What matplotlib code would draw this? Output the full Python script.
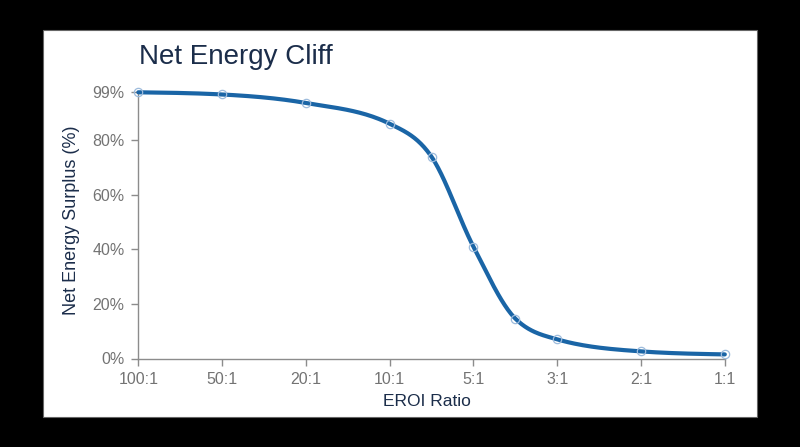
import numpy as np
import matplotlib
matplotlib.use("Agg")
import matplotlib.pyplot as plt
from matplotlib.patches import Rectangle

# data
ratio_labels = ["100:1", "50:1", "20:1", "10:1", "5:1", "3:1", "2:1", "1:1"]
point_pos = [0, 1, 2, 3, 3.5, 4, 4.5, 5, 6, 7]
surplus = [97.4, 96.6, 93.5, 85.9, 73.8, 40.9, 14.6, 7.0, 2.6, 1.5]
y_ticks = [0, 20, 40, 60, 80, 97.4]
y_tick_labels = ["0%", "20%", "40%", "60%", "80%", "99%"]

NAVY = "#1b2d4a"
LINE = "#1a65a6"
GREY_TXT = "#737373"
GREY_AX = "#8c8c8c"

plt.rcParams["font.family"] = ["Liberation Sans", "DejaVu Sans"]


def monotone_curve(x, y, n=40):
    # monotone cubic (same idea as d3.curveMonotoneX)
    x = np.asarray(x, float)
    y = np.asarray(y, float)
    h = np.diff(x)
    s = np.diff(y) / h
    m = np.zeros_like(y)
    for i in range(1, len(x) - 1):
        p = (s[i - 1] * h[i] + s[i] * h[i - 1]) / (h[i - 1] + h[i])
        m[i] = (np.sign(s[i - 1]) + np.sign(s[i])) * min(abs(s[i - 1]), abs(s[i]), 0.5 * abs(p))
    m[0] = (3 * s[0] - m[1]) / 2
    m[-1] = (3 * s[-1] - m[-2]) / 2
    xs, ys = [], []
    for i in range(len(x) - 1):
        t = np.linspace(0, 1, n)
        h00 = 2 * t**3 - 3 * t**2 + 1
        h10 = t**3 - 2 * t**2 + t
        h01 = -2 * t**3 + 3 * t**2
        h11 = t**3 - t**2
        xs.append(x[i] + t * h[i])
        ys.append(h00 * y[i] + h10 * h[i] * m[i] + h01 * y[i + 1] + h11 * h[i] * m[i + 1])
    return np.concatenate(xs), np.concatenate(ys)


W, H = 800, 447
fig = plt.figure(figsize=(W / 100, H / 100), dpi=100, facecolor="black")

panel = Rectangle((43 / W, 1 - 417.3 / H), (757 - 43) / W, (417.3 - 29.7) / H,
                  transform=fig.transFigure, facecolor="white", edgecolor="#666666",
                  linewidth=0.8, zorder=0)
fig.add_artist(panel)

ax = fig.add_axes([138.3 / W, 1 - 358.5 / H, (724.8 - 138.3) / W, (358.5 - 92.3) / H])
ax.set_facecolor("none")

cx, cy = monotone_curve(point_pos, surplus)
ax.plot(cx, cy, color=LINE, linewidth=3.0, solid_capstyle="round", clip_on=False, zorder=3)
ax.plot(point_pos, surplus, linestyle="none", marker="o", markersize=6,
        markerfacecolor="none", markeredgecolor="#9dbbdc", markeredgewidth=0.9,
        clip_on=False, zorder=4)

ax.set_xlim(0, 7)
ax.set_ylim(0, y_ticks[-1])
ax.set_xticks(range(len(ratio_labels)))
ax.set_xticklabels(ratio_labels)
ax.set_yticks(y_ticks)
ax.set_yticklabels(y_tick_labels)

for side in ["top", "right"]:
    ax.spines[side].set_visible(False)
for side in ["left", "bottom"]:
    ax.spines[side].set_color(GREY_AX)
    ax.spines[side].set_linewidth(1.0)

ax.tick_params(axis="both", direction="out", length=5, width=1.0, color=GREY_AX,
               labelcolor=GREY_TXT, labelsize=11.5, pad=5)

fig.text(139 / W, 1 - 64.3 / H, "Net Energy Cliff", fontsize=20, color=NAVY,
         ha="left", va="baseline")
fig.text(72 / W, 1 - 220 / H, "Net Energy Surplus (%)", fontsize=13, color=NAVY,
         rotation=90, ha="center", va="center")
fig.text(427 / W, 1 - 401 / H, "EROI Ratio", fontsize=12.5, color=NAVY,
         ha="center", va="center")

fig.savefig("out.png", dpi=100, facecolor="black")
